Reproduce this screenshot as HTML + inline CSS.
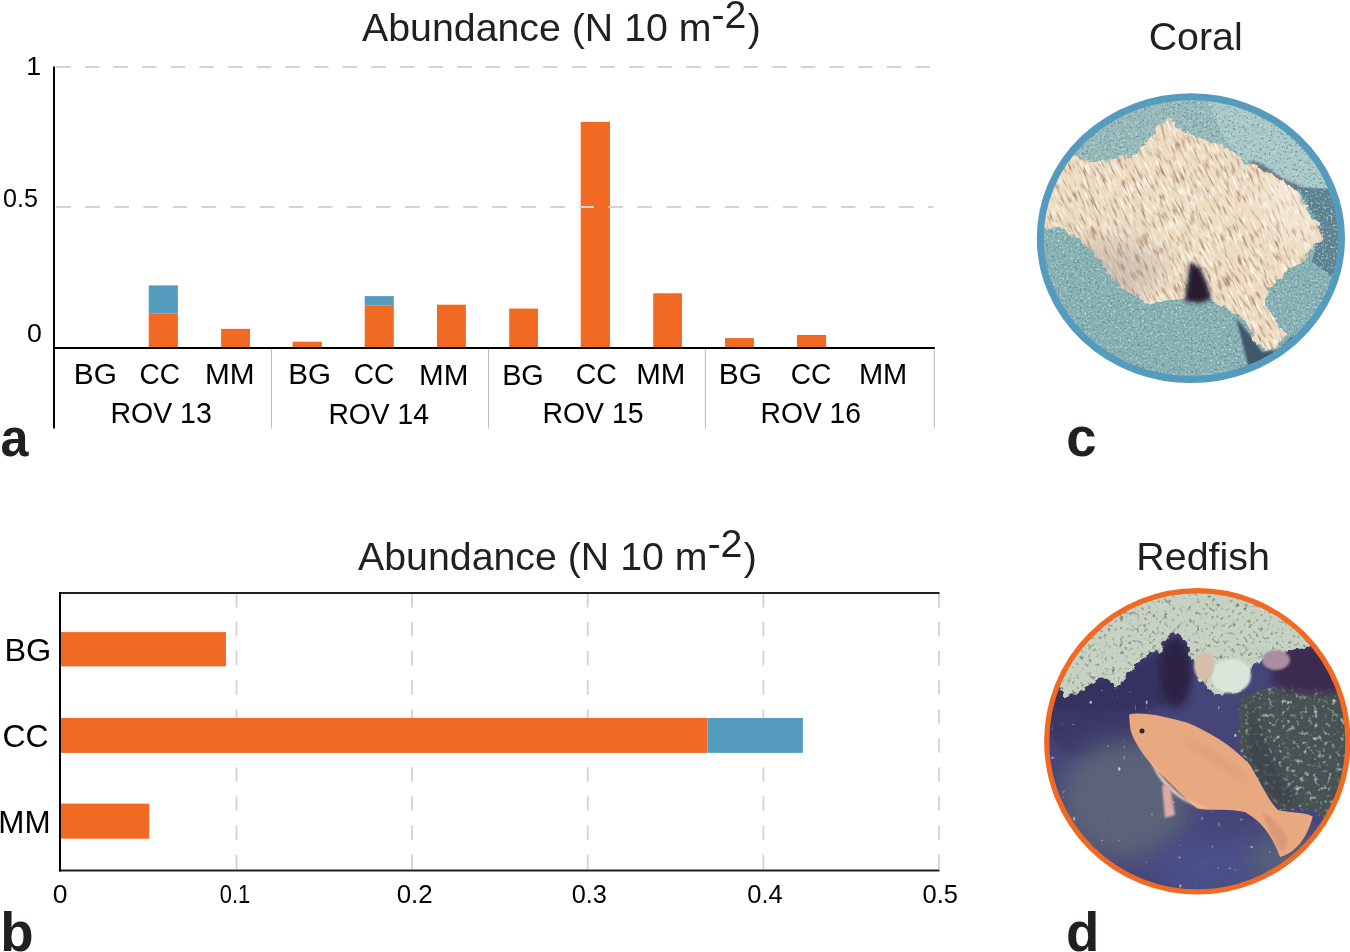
<!DOCTYPE html>
<html><head><meta charset="utf-8"><style>
html,body{margin:0;padding:0;background:#fff;}
body{width:1350px;height:952px;overflow:hidden;}
svg{display:block;font-family:"Liberation Sans",sans-serif;will-change:transform;}
</style></head><body>
<svg width="1350" height="952" viewBox="0 0 1350 952">
<rect width="1350" height="952" fill="#fff"/>
<defs>
<clipPath id="cc"><ellipse cx="1190.9" cy="238.15" rx="151" ry="142"/></clipPath>
<clipPath id="rc"><circle cx="1197.3" cy="741.3" r="151"/></clipPath>
<filter id="spkD" x="0" y="0" width="1" height="1" color-interpolation-filters="sRGB">
  <feTurbulence type="fractalNoise" baseFrequency="0.45" numOctaves="2" seed="5"/>
  <feColorMatrix type="matrix" values="0 0 0 0 0.36  0 0 0 0 0.52  0 0 0 0 0.54  3.2 0 0 0 -1.75"/>
  <feComposite in2="SourceAlpha" operator="in"/>
</filter>
<filter id="spkL" x="0" y="0" width="1" height="1" color-interpolation-filters="sRGB">
  <feTurbulence type="fractalNoise" baseFrequency="0.45" numOctaves="2" seed="11"/>
  <feColorMatrix type="matrix" values="0 0 0 0 0.75  0 0 0 0 0.88  0 0 0 0 0.9  3.2 0 0 0 -1.75"/>
  <feComposite in2="SourceAlpha" operator="in"/>
</filter>
<filter id="strk" x="0" y="0" width="1" height="1" color-interpolation-filters="sRGB">
  <feTurbulence type="fractalNoise" baseFrequency="0.4 0.07" numOctaves="2" seed="7"/>
  <feColorMatrix type="matrix" values="0 0 0 0 0.64  0 0 0 0 0.5  0 0 0 0 0.4  3.6 0 0 0 -1.9"/>
  <feComposite in2="SourceAlpha" operator="in"/>
</filter>
<filter id="spkG" x="0" y="0" width="1" height="1" color-interpolation-filters="sRGB">
  <feTurbulence type="fractalNoise" baseFrequency="0.25" numOctaves="2" seed="21"/>
  <feColorMatrix type="matrix" values="0 0 0 0 0.42  0 0 0 0 0.46  0 0 0 0 0.36  3.2 0 0 0 -1.8"/>
  <feComposite in2="SourceAlpha" operator="in"/>
</filter>
<filter id="spkW" x="0" y="0" width="1" height="1" color-interpolation-filters="sRGB">
  <feTurbulence type="fractalNoise" baseFrequency="0.22" numOctaves="2" seed="31"/>
  <feColorMatrix type="matrix" values="0 0 0 0 0.7  0 0 0 0 0.78  0 0 0 0 0.72  3.5 0 0 0 -1.95"/>
  <feComposite in2="SourceAlpha" operator="in"/>
</filter>
<mask id="coralM" maskUnits="userSpaceOnUse" x="1030" y="85" width="320" height="310"><use href="#coralP" fill="#fff" filter="url(#rough)"/></mask>
<filter id="strkL" x="0" y="0" width="1" height="1" color-interpolation-filters="sRGB">
  <feTurbulence type="fractalNoise" baseFrequency="0.45 0.08" numOctaves="2" seed="17"/>
  <feColorMatrix type="matrix" values="0 0 0 0 0.99  0 0 0 0 0.97  0 0 0 0 0.94  4 0 0 0 -2.1"/>
  <feComposite in2="SourceAlpha" operator="in"/>
</filter>
<filter id="rough" x="-5%" y="-5%" width="110%" height="110%">
  <feTurbulence type="fractalNoise" baseFrequency="0.12" numOctaves="2" seed="9" result="t"/>
  <feDisplacementMap in="SourceGraphic" in2="t" scale="9" xChannelSelector="R" yChannelSelector="G"/>
</filter>
<mask id="spgM" maskUnits="userSpaceOnUse" x="1030" y="575" width="330" height="140"><path d="M1040,585 L1350,585 L1350,652 L1335,646 L1320,644 L1300,648 L1285,652 L1265,657 L1252,668 L1240,692 L1215,694 L1198,680 L1190,655 L1188.6,649.1 L1183.8,639.4 L1175.8,633 L1169.4,634.6 L1164.5,641 L1161.3,649.1 L1153.3,652.3 L1143.6,658.7 L1134,668.4 L1127.6,674.8 L1121.1,684.4 L1114.7,687.6 L1108.3,681.2 L1098.6,678 L1090.6,684.4 L1082.6,690.9 L1072.9,694.1 L1064.9,697.3 L1058.5,687.6 L1040,690 Z" fill="#fff" filter="url(#rough)"/></mask>
<mask id="rockM" maskUnits="userSpaceOnUse" x="1215" y="660" width="150" height="200"><path d="M1242,695 L1290,684 L1350,690 L1350,835 L1322,815 L1300,808 L1284,812 L1272,800 L1262,790 L1252,772 L1240,752 L1238,720 Z" fill="#fff" filter="url(#rough)"/></mask>
<filter id="blur1"><feGaussianBlur stdDeviation="1.2"/></filter>
<filter id="blur2" x="-30%" y="-30%" width="160%" height="160%"><feGaussianBlur stdDeviation="2"/></filter>
<filter id="blur3"><feGaussianBlur stdDeviation="4"/></filter>
<filter id="blur6" x="-50%" y="-50%" width="200%" height="200%"><feGaussianBlur stdDeviation="12"/></filter>
<filter id="spkWater" x="0" y="0" width="1" height="1" color-interpolation-filters="sRGB">
  <feTurbulence type="fractalNoise" baseFrequency="0.18" numOctaves="1" seed="41"/>
  <feColorMatrix type="matrix" values="0 0 0 0 0.82  0 0 0 0 0.85  0 0 0 0 0.9  10 0 0 0 -7.3"/>
  <feComposite in2="SourceAlpha" operator="in"/>
</filter>
<path id="coralP" d="M1035,160 L1060,152 L1076.8,155.7 L1091.5,162 L1112.5,159.9 L1129.3,155.7 L1144,145.2 L1154.5,132.6 L1160.8,122.1 L1169.2,118 L1177.6,128 L1196.6,136.8 L1207.1,141 L1219.7,145.2 L1232.3,151.5 L1244.9,162 L1257.5,166.2 L1270.1,174.6 L1282.7,180.9 L1297.4,189.3 L1301.6,199.8 L1312.1,216.6 L1320.5,229.2 L1323,238 L1312.1,250.3 L1301.6,262.9 L1291.1,267.1 L1280.6,279.7 L1270.1,288.1 L1264,298.6 L1268,310 L1276.3,321.7 L1288.4,332.4 L1282.4,338.5 L1276.3,347.6 L1267.1,350.7 L1258,344.6 L1248.9,329.4 L1242.8,318 L1228.1,309.1 L1211.3,298.6 L1207.1,283.9 L1200,268 L1191,262 L1186,298.6 L1165,300.7 L1148.2,304.9 L1139.8,298.6 L1123,288.1 L1106.2,271.3 L1091.5,250.3 L1076.8,237.6 L1066.3,231.3 L1060,229.2 L1035,225 Z"/>
</defs>
<g clip-path="url(#cc)">
<rect x="1035" y="90" width="315" height="300" fill="#87b0b3"/>
<path d="M1030,85 L1350,85 L1350,195 L1297,189 L1270,175 L1245,162 L1220,145 L1197,137 L1177,128 L1169,118 L1155,132 L1144,145 L1129,156 L1112,160 L1091,162 L1077,156 L1030,160 Z" fill="#97b9b9"/>
<path d="M1200,85 L1350,85 L1350,195 L1297,189 L1270,175 L1245,162 L1225,140 Z" fill="#abc9c9"/>
<path d="M1297,187 L1350,190 L1350,290 L1312,262 L1320,230 L1305,200 Z" fill="#5e8190"/>
<path d="M1035,90 L1350,90 L1350,390 L1035,390 Z" fill="#000" filter="url(#spkD)"/>
<path d="M1035,90 L1350,90 L1350,390 L1035,390 Z" fill="#000" filter="url(#spkL)"/>
<path d="M1236,318 L1250,335 L1262,352 L1280,350 L1292,336 L1300,348 L1290,372 L1250,372 Z" fill="#415868" filter="url(#blur1)"/>
<path d="M1248,160 L1262,164 L1282,178 L1300,186 L1296,192 L1278,186 L1258,172 Z" fill="#4a4a58" opacity="0.6" filter="url(#blur1)"/>
<g mask="url(#coralM)"><rect x="1030" y="85" width="320" height="310" fill="#eddcc2"/>
<g><rect x="1000" y="50" width="400" height="400" fill="#000" transform="rotate(-25 1190 238)" filter="url(#strk)"/><rect x="1000" y="50" width="400" height="400" fill="#000" transform="rotate(-25 1190 238)" filter="url(#strkL)"/></g>
<g><ellipse cx="1110" cy="270" rx="50" ry="30" fill="#9c8c88" opacity="0.35" filter="url(#blur6)"/><ellipse cx="1290" cy="200" rx="30" ry="40" fill="#fff8ee" opacity="0.35" filter="url(#blur6)"/></g>
</g>
<path d="M1185,301 L1190,262 L1200,268 L1207,284 L1211,299 L1200,303 Z" fill="#2a1e2e" filter="url(#blur2)"/>
</g>
<ellipse cx="1190.9" cy="238.15" rx="150.6" ry="141.4" fill="none" stroke="#559bbd" stroke-width="7"/>
<g clip-path="url(#rc)">
<rect x="1040" y="585" width="315" height="315" fill="#46457a"/>
<ellipse cx="1095" cy="720" rx="50" ry="40" fill="#3b3868" filter="url(#blur3)"/>
<path d="M1050,690 L1100,680 L1150,655 L1170,640 L1180,700 L1140,712 L1090,712 L1050,710 Z" fill="#36315f" filter="url(#blur3)"/>
<ellipse cx="1125" cy="800" rx="65" ry="60" fill="#5a6478" filter="url(#blur6)"/>
<ellipse cx="1215" cy="868" rx="60" ry="30" fill="#4c5088" filter="url(#blur6)"/>
<ellipse cx="1290" cy="860" rx="40" ry="30" fill="#56607a" filter="url(#blur6)"/>
<rect x="1040" y="690" width="315" height="210" fill="#000" filter="url(#spkWater)"/>
<g mask="url(#rockM)"><rect x="1225" y="670" width="130" height="180" fill="#485254"/><rect x="1225" y="670" width="130" height="180" fill="#000" filter="url(#spkW)"/></g>
<path d="M1250,700 C1262,730 1270,760 1290,790 L1296,805 L1280,808 L1262,785 L1248,755 Z" fill="#3a4048" opacity="0.7" filter="url(#blur3)"/>
<ellipse cx="1176" cy="672" rx="16" ry="36" fill="#2a2244" filter="url(#blur3)"/>
<path d="M1275,652 L1300,645 L1340,648 L1350,690 L1320,694 L1290,692 L1270,682 Z" fill="#3d2c50" filter="url(#blur3)"/>
<g mask="url(#spgM)"><rect x="1040" y="585" width="315" height="120" fill="#c6d2c4"/><rect x="1040" y="585" width="315" height="120" fill="#000" filter="url(#spkG)"/></g>

<ellipse cx="1231" cy="676" rx="20" ry="17" fill="#dbe6da" filter="url(#blur1)"/>
<ellipse cx="1204" cy="666" rx="10" ry="14" fill="#d6bea8" filter="url(#blur1)"/>
<ellipse cx="1276" cy="660" rx="14" ry="10" fill="#a88ea0" filter="url(#blur1)"/>
<path id="fish" d="M1129.2,714.5 C1140.9,711.1 1164.5,716.1 1188,722.9 C1208.2,731.3 1231.7,744.7 1250,765 C1262,785 1268,800 1278,810 C1292,813 1305,812 1312.7,816.5 C1308,835 1298,852 1280,857 C1272,835 1262,822 1245,812 C1229,808.5 1213,811 1197,808.5 C1180.6,794 1166.1,778 1156.5,769.9 C1143.6,757.1 1134,741 1130.8,731.3 C1129.5,724 1129.2,714.5 1129.2,714.5 Z" fill="#e9a980"/>
<path d="M1150,760 C1170,790 1190,806 1215,810 C1190,808 1162,792 1150,760 Z" fill="#f4d4c6" filter="url(#blur1)"/>
<path d="M1175,735 C1200,745 1230,760 1255,790 C1230,770 1200,752 1175,735 Z" fill="#d9996f" filter="url(#blur3)"/>
<path d="M1262,812 C1280,822 1296,840 1282,852 C1272,840 1266,825 1262,812 Z" fill="#d99a78" filter="url(#blur1)"/>
<path d="M1162,786 L1170,785 L1175,815 L1165,818 Z" fill="#dcaaa4" filter="url(#blur1)"/>
<circle cx="1142" cy="731" r="2.5" fill="#3a2020"/>
</g>
<circle cx="1197.3" cy="741.3" r="150.6" fill="none" stroke="#f16a23" stroke-width="5.2"/>

<rect x="148.70" y="285.40" width="29.20" height="28.30" fill="#559bbd"/>
<rect x="148.70" y="313.70" width="29.20" height="34.30" fill="#f16a23"/>
<rect x="221.10" y="328.90" width="28.90" height="19.10" fill="#f16a23"/>
<rect x="292.60" y="341.70" width="29.20" height="6.30" fill="#f16a23"/>
<rect x="364.70" y="296.10" width="29.10" height="9.60" fill="#559bbd"/>
<rect x="364.70" y="305.70" width="29.10" height="42.30" fill="#f16a23"/>
<rect x="437.00" y="304.70" width="28.90" height="43.30" fill="#f16a23"/>
<rect x="509.20" y="308.60" width="28.80" height="39.40" fill="#f16a23"/>
<rect x="580.70" y="121.90" width="29.30" height="226.10" fill="#f16a23"/>
<rect x="653.20" y="293.30" width="28.80" height="54.70" fill="#f16a23"/>
<rect x="725.00" y="338.10" width="28.90" height="9.90" fill="#f16a23"/>
<rect x="797.00" y="335.00" width="29.10" height="13.00" fill="#f16a23"/>
<line x1="56.2" y1="67" x2="930" y2="67" stroke="#d1d3d4" stroke-width="1.8" stroke-dasharray="14.5 14.14"/>
<line x1="56.3" y1="207" x2="933.2" y2="207" stroke="#d1d3d4" stroke-width="1.8" stroke-dasharray="14.6 14.46"/>
<line x1="271.4" y1="348.5" x2="271.4" y2="428.6" stroke="#b7b7b7" stroke-width="1"/>
<line x1="488.6" y1="348.5" x2="488.6" y2="428.6" stroke="#b7b7b7" stroke-width="1"/>
<line x1="705.3" y1="348.5" x2="705.3" y2="428.6" stroke="#b7b7b7" stroke-width="1"/>
<line x1="934.3" y1="348.5" x2="934.3" y2="428.6" stroke="#b7b7b7" stroke-width="1"/>
<line x1="53" y1="348" x2="934.8" y2="348" stroke="#000" stroke-width="2"/>
<line x1="54" y1="66.6" x2="54" y2="428.4" stroke="#000" stroke-width="2"/>
<text x="26.37" y="74.90" font-size="26.70" fill="#000">1</text>
<text transform="translate(4.00 206.60) scale(0.9413 1)" x="-1.04" y="0" font-size="26.70" fill="#000">0.5</text>
<text x="26.96" y="341.70" font-size="26.70" fill="#000">0</text>
<text transform="translate(76.30 384.10) scale(1.0424 1)" x="-2.35" y="0" font-size="28.60" fill="#000">BG</text>
<text transform="translate(140.90 384.10) scale(0.9828 1)" x="-1.45" y="0" font-size="28.60" fill="#000">CC</text>
<text transform="translate(207.40 384.10) scale(1.0406 1)" x="-2.35" y="0" font-size="28.60" fill="#000">MM</text>
<text transform="translate(290.60 384.10) scale(1.0342 1)" x="-2.35" y="0" font-size="28.60" fill="#000">BG</text>
<text transform="translate(355.10 384.10) scale(0.9828 1)" x="-1.45" y="0" font-size="28.60" fill="#000">CC</text>
<text transform="translate(421.50 385.00) scale(1.0359 1)" x="-2.35" y="0" font-size="28.60" fill="#000">MM</text>
<text transform="translate(504.50 385.00) scale(1.0071 1)" x="-2.35" y="0" font-size="28.60" fill="#000">BG</text>
<text transform="translate(577.10 384.10) scale(0.9957 1)" x="-1.45" y="0" font-size="28.60" fill="#000">CC</text>
<text transform="translate(638.60 384.10) scale(1.0313 1)" x="-2.35" y="0" font-size="28.60" fill="#000">MM</text>
<text transform="translate(721.30 384.10) scale(1.0424 1)" x="-2.35" y="0" font-size="28.60" fill="#000">BG</text>
<text transform="translate(792.10 384.10) scale(0.9828 1)" x="-1.45" y="0" font-size="28.60" fill="#000">CC</text>
<text transform="translate(861.30 384.10) scale(1.0150 1)" x="-2.35" y="0" font-size="28.60" fill="#000">MM</text>
<text transform="translate(112.90 423.00) scale(0.9956 1)" x="-2.35" y="0" font-size="28.60" fill="#000">ROV 13</text>
<text transform="translate(330.70 424.20) scale(0.9893 1)" x="-2.35" y="0" font-size="28.60" fill="#000">ROV 14</text>
<text transform="translate(544.80 423.00) scale(0.9940 1)" x="-2.35" y="0" font-size="28.60" fill="#000">ROV 15</text>
<text transform="translate(762.90 423.00) scale(0.9875 1)" x="-2.35" y="0" font-size="28.60" fill="#000">ROV 16</text>
<line x1="236.5" y1="593" x2="236.5" y2="869" stroke="#d1d3d4" stroke-width="1.8" stroke-dasharray="14.5 14.55"/>
<line x1="412.1" y1="593" x2="412.1" y2="869" stroke="#d1d3d4" stroke-width="1.8" stroke-dasharray="14.5 14.55"/>
<line x1="587.7" y1="593" x2="587.7" y2="869" stroke="#d1d3d4" stroke-width="1.8" stroke-dasharray="14.5 14.55"/>
<line x1="763.4" y1="593" x2="763.4" y2="869" stroke="#d1d3d4" stroke-width="1.8" stroke-dasharray="14.5 14.55"/>
<line x1="939.0" y1="593" x2="939.0" y2="869" stroke="#d1d3d4" stroke-width="1.8" stroke-dasharray="14.5 14.55"/>
<rect x="60.50" y="632.10" width="165.50" height="34.30" fill="#f16a23"/>
<rect x="60.50" y="718.00" width="646.80" height="34.90" fill="#f16a23"/>
<rect x="707.30" y="718.00" width="95.60" height="34.90" fill="#559bbd"/>
<rect x="60.50" y="803.60" width="88.70" height="35.10" fill="#f16a23"/>
<line x1="59" y1="593" x2="939.5" y2="593" stroke="#231f20" stroke-width="2"/>
<line x1="59" y1="870.5" x2="939.5" y2="870.5" stroke="#231f20" stroke-width="2"/>
<line x1="60" y1="592" x2="60" y2="871.5" stroke="#000" stroke-width="2"/>
<text transform="translate(7.10 660.60) scale(1.0078 1)" x="-2.64" y="0" font-size="32.20" fill="#000">BG</text>
<text transform="translate(4.00 746.70) scale(0.9921 1)" x="-1.64" y="0" font-size="32.20" fill="#000">CC</text>
<text transform="translate(0.80 832.90) scale(0.9760 1)" x="-2.64" y="0" font-size="32.20" fill="#000">MM</text>
<text x="52.86" y="902.50" font-size="26.50" fill="#000">0</text>
<text transform="translate(220.70 902.70) scale(0.8259 1)" x="-1.04" y="0" font-size="26.50" fill="#000">0.1</text>
<text transform="translate(397.70 902.70) scale(0.9776 1)" x="-1.04" y="0" font-size="26.50" fill="#000">0.2</text>
<text transform="translate(572.70 902.70) scale(0.9556 1)" x="-1.04" y="0" font-size="26.50" fill="#000">0.3</text>
<text transform="translate(748.30 902.70) scale(0.9621 1)" x="-1.04" y="0" font-size="26.50" fill="#000">0.4</text>
<text transform="translate(923.60 902.70) scale(0.9628 1)" x="-1.04" y="0" font-size="26.50" fill="#000">0.5</text>
<text x="362.02" y="41.20" font-size="39.30" fill="#231f20">Abundance (N 10 m<tspan dy="-13.2">-2</tspan><tspan dy="13.2" dx="1.2">)</tspan></text>
<text x="358.02" y="570.10" font-size="39.30" fill="#231f20">Abundance (N 10 m<tspan dy="-13.2">-2</tspan><tspan dy="13.2" dx="1.2">)</tspan></text>
<text transform="translate(1150.70 49.70) scale(1.0001 1)" x="-2.00" y="0" font-size="39.30" fill="#231f20">Coral</text>
<text transform="translate(1139.50 570.00) scale(1.0033 1)" x="-3.22" y="0" font-size="39.30" fill="#231f20">Redfish</text>
<text transform="translate(1.90 456.00) scale(0.9206 1)" x="-1.60" y="0" font-size="54.60" fill="#231f20" font-weight="bold">a</text>
<text x="1066.17" y="456.00" font-size="54.60" fill="#231f20" font-weight="bold">c</text>
<text x="0.20" y="951.00" font-size="54.60" fill="#231f20" font-weight="bold">b</text>
<text x="1065.96" y="951.00" font-size="54.60" fill="#231f20" font-weight="bold">d</text>
</svg>
</body></html>
